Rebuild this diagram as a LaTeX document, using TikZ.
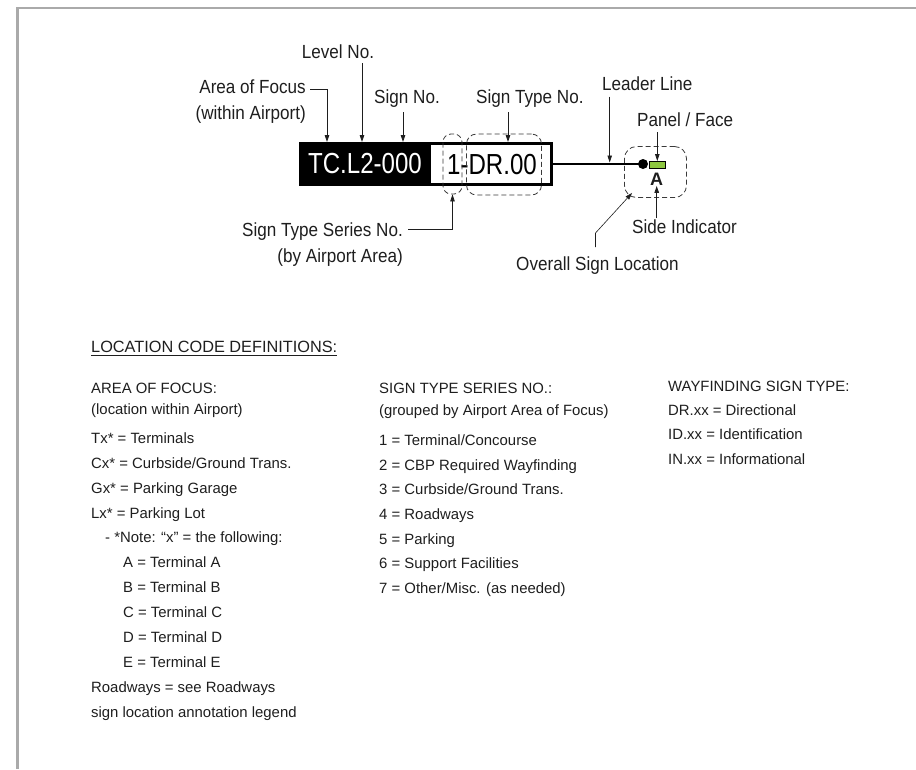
\documentclass[tikz,border=0pt]{standalone}
\usepackage{fontspec}
\setmainfont{Liberation Sans}
\newfontfamily\labelfamily[FakeStretch=0.9]{Liberation Sans}
\newfontfamily\codefamily[FakeStretch=0.83]{Liberation Sans}
\usepackage{xcolor}
\usepackage{tikz}
\usetikzlibrary{arrows.meta,positioning,calc}
\definecolor{framegray}{HTML}{AAAAAA}
\definecolor{panelgreen}{HTML}{8DC63F}
\definecolor{dashgray}{HTML}{3A3A3A}
\definecolor{inkblack}{HTML}{1E1E1E}
\tikzset{
  callout/.style={inner sep=0pt, font=\labelfamily\fontsize{19}{26}\selectfont, text=inkblack},
  legend/.style={inner sep=0pt, anchor=base west, font=\fontsize{14.9}{18}\selectfont, text=inkblack},
  pointer/.style={-{Triangle[length=7pt,width=4.5pt]}, line width=0.8pt, draw=inkblack},
  markbox/.style={draw=dashgray, dash pattern=on 5pt off 3pt, line width=0.8pt, rounded corners=8pt, inner sep=0pt},
  codetext/.style={inner sep=0pt, font=\codefamily\fontsize{29}{29}\selectfont},
  signframe/.style={draw=black, line width=2.6pt, inner sep=0pt},
  pin/.style={circle, fill=black, minimum size=10pt, inner sep=0pt},
  panel/.style={draw=black, fill=panelgreen, line width=0.9pt, minimum width=16pt, minimum height=6.5pt, inner sep=0pt},
  leader/.style={draw=black, line width=2.6pt}
}

\begin{document}
\begin{tikzpicture}[x=1pt, y=-1pt]
  \useasboundingbox (0,0) rectangle (916,769);
  \draw[framegray, line width=2.8pt] (17.5,769) -- (17.5,8) -- (916,8);

  \node[fill=black, minimum width=132pt, minimum height=44pt, codetext, text=white] (areaid) at (365,164) {TC.L2-000};
  \node[signframe, minimum width=251.4pt, minimum height=41.4pt] (frame) at (426,164) {};
  \node[codetext] (typeid) at (492,164.5) {1-DR.00};
  \node[markbox, minimum width=19pt, minimum height=60pt] (seriesmark) at (452.5,164) {};
  \node[markbox, rounded corners=10pt, minimum width=75pt, minimum height=61pt] (typemark) at (504,164.5) {};

  \node[pin] (pin) at (643,164) {};
  \draw[leader] (frame.east) -- (pin.center);
  \node[panel] (face) at (657.3,164.7) {};
  \node[inner sep=0pt, font=\bfseries\fontsize{18}{18}\selectfont, text=inkblack] (side) at (656.7,179.5) {A};
  \node[markbox, rounded corners=12pt, minimum width=62pt, minimum height=51pt] (signloc) at (655.5,172) {};

  \node[callout, anchor=base] (level) at (338,58) {Level No.};
  \node[callout, anchor=base east, align=right] (focus) at (306,119.5) {Area of Focus\\(within Airport)};
  \node[callout, anchor=base west] (signno) at (374,103) {Sign No.};
  \node[callout, anchor=base west] (typeno) at (476,103) {Sign Type No.};
  \node[callout, anchor=base west] (leaderlbl) at (602,90) {Leader Line};
  \node[callout, anchor=base west] (facelbl) at (637,126.5) {Panel / Face};
  \node[callout, anchor=base west] (sidelbl) at (632,233.5) {Side Indicator};
  \node[callout, anchor=base east, align=right] (serieslbl) at (403,262) {Sign Type Series No.\\(by Airport Area)};
  \node[callout, anchor=base west] (overall) at (516,270) {Overall Sign Location};

  \coordinate (leveltip) at ([xshift=63pt]frame.north west);
  \coordinate (signtip) at ([xshift=104pt]frame.north west);
  \coordinate (typetip) at ([xshift=209pt]frame.north west);
  \coordinate (leadertip) at ($(frame.east)!0.63!(pin.center)+(0,-1.5)$);

  \draw[pointer] ([shift={(4,-30)}]focus.base east) -| ([xshift=28pt]frame.north west);
  \draw[pointer] ($(leveltip |- level.base)+(0,5)$) -- (leveltip);
  \draw[pointer] ($(signtip |- signno.base)+(0,9)$) -- (signtip);
  \draw[pointer] ($(typetip |- typeno.base)+(0,9)$) -- (typetip);
  \draw[pointer] ($(leadertip |- leaderlbl.base)+(0,6.5)$) -- (leadertip);
  \draw[pointer] ($(face.north |- facelbl.base)+(0,5.5)$) -- (face.north);
  \draw[pointer] ($(side.south |- sidelbl.north)+(0,-1.5)$) -- (side.south);
  \draw[pointer] ([shift={(5,-32.5)}]serieslbl.base east) -| (seriesmark.south);
  \draw[pointer, line width=0.6pt] ($(overall.north)+(-2,-9)$) -- ++(0,-14) -- ($(signloc.south west)+(8,-5)$);

  \node[anchor=base west, inner sep=0pt, font=\fontsize{16.3}{18}\selectfont, text=inkblack] (defs) at (91,352.5) {LOCATION CODE DEFINITIONS:};
  \draw[inkblack, line width=0.8pt] ([yshift=-2.5pt]defs.base west) -- ([yshift=-2.5pt]defs.base east);

  \node[legend] (aofhead) at (91,393.3) {AREA OF FOCUS:};
  \node[legend] (aofsub) at (91,414.8) {(location within Airport)};
  \foreach \dx/\txt [count=\i] in {0/{Tx* = Terminals}, 0/{Cx* = Curbside/Ground Trans.}, 0/{Gx* = Parking Garage}, 0/{Lx* = Parking Lot}, 14/{- *Note: “x” = the following:}, 32/{A = Terminal A}, 32/{B = Terminal B}, 32/{C = Terminal C}, 32/{D = Terminal D}, 32/{E = Terminal E}, 0/{Roadways = see Roadways}, 0/{sign location annotation legend}}
    \node[legend] (aof\i) at ({91+\dx},{443.3+24.9*(\i-1)}) {\txt};

  \node[legend] (serhead) at (379,393.3) {SIGN TYPE SERIES NO.:};
  \node[legend] (sersub) at (379,415.8) {(grouped by Airport Area of Focus)};
  \foreach \txt [count=\i] in {{1 = Terminal/Concourse}, {2 = CBP Required Wayfinding}, {3 = Curbside/Ground Trans.}, {4 = Roadways}, {5 = Parking}, {6 = Support Facilities}, {7 = Other/Misc. (as needed)}}
    \node[legend] (ser\i) at ({379},{445.3+24.7*(\i-1)}) {\txt};

  \node[legend] (wayhead) at (668,391.3) {WAYFINDING SIGN TYPE:};
  \foreach \txt [count=\i] in {{DR.xx = Directional}, {ID.xx = Identification}, {IN.xx = Informational}}
    \node[legend] (way\i) at ({668},{415.3+24.5*(\i-1)}) {\txt};
\end{tikzpicture}
\end{document}
